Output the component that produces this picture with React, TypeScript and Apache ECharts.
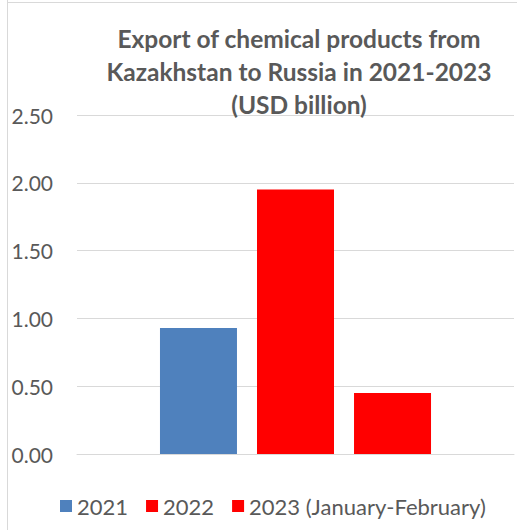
import React, { useEffect, useRef } from "react";
import * as echarts from "echarts";

const categories = ["Export"];
const seriesNames = ["2021", "2022", "2023 (January-February)"];
const seriesValues = [[0.93], [1.95], [0.45]];
const seriesColors = ["#4F81BD", "#FF0000", "#FF0000"];
const titleLines = [
  "Export of chemical products from",
  "Kazakhstan to Russia in 2021-2023",
  "(USD billion)",
];

export default function App() {
  const ref = useRef<HTMLDivElement>(null);
  useEffect(() => {
    if (!ref.current) return;
    const chart = echarts.init(ref.current, null, { renderer: "svg" });
    const font = "Lato, Carlito, Calibri, sans-serif";
    chart.setOption({
      animation: false,
      backgroundColor: "#ffffff",
      title: {
        text: titleLines.join("\n"),
        left: 294,
        textAlign: "center",
        top: 17,
        textStyle: {
          fontFamily: font,
          fontSize: 24.5,
          fontWeight: "bold",
          color: "#595959",
          lineHeight: 33,
        },
      },
      legend: {
        left: 55,
        top: 490,
        itemWidth: 12,
        itemHeight: 12,
        itemGap: 18,
        icon: "rect",
        textStyle: { fontFamily: font, fontSize: 22, color: "#595959" },
        data: seriesNames,
      },
      grid: { left: 77, right: 3, top: 115, bottom: 76, containLabel: false },
      xAxis: {
        type: "category",
        data: categories,
        axisLine: { show: true, lineStyle: { color: "#d9d9d9", width: 1 } },
        axisTick: { show: false },
        axisLabel: { show: false },
      },
      yAxis: {
        type: "value",
        min: 0,
        max: 2.5,
        interval: 0.5,
        axisLine: { show: false },
        axisTick: { show: false },
        splitLine: { lineStyle: { color: "#d9d9d9", width: 1 } },
        axisLabel: {
          margin: 24,
          fontFamily: font,
          fontSize: 21,
          color: "#595959",
          formatter: (v: number) => v.toFixed(2),
        },
      },
      graphic: [
        { type: "line", shape: { x1: 7.5, y1: 0, x2: 7.5, y2: 530 }, style: { stroke: "#d9d9d9", lineWidth: 1 } },
        { type: "line", shape: { x1: 7, y1: 2.5, x2: 517, y2: 2.5 }, style: { stroke: "#d9d9d9", lineWidth: 1 } },
      ],
      series: seriesNames.map((name, i) => ({
        name,
        type: "bar",
        data: seriesValues[i],
        barWidth: 77,
        barGap: "26%",
        itemStyle: { color: seriesColors[i] },
      })),
    });
    return () => chart.dispose();
  }, []);
  return <div ref={ref} style={{ width: 517, height: 530, position: "absolute", left: 0, top: 0 }} />;
}
